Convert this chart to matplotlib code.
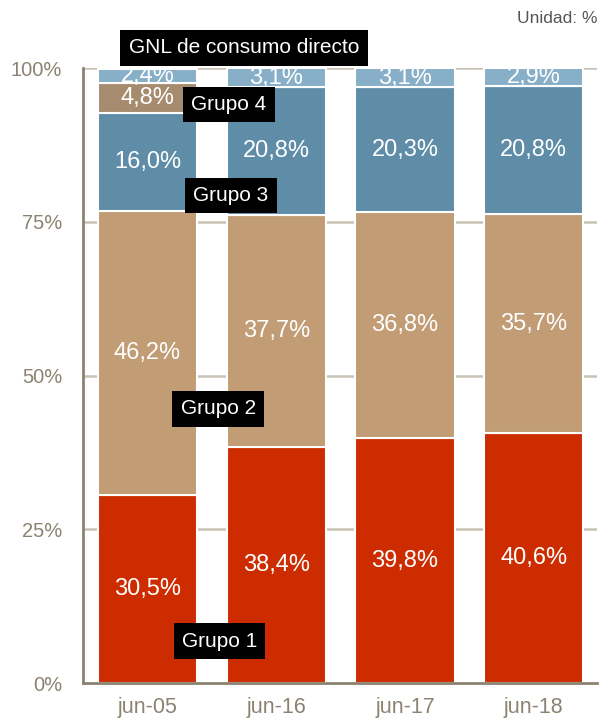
import matplotlib
matplotlib.use("Agg")
import matplotlib.pyplot as plt
import numpy as np

plt.rcParams['font.family'] = ['Liberation Sans', 'DejaVu Sans']

categories = ["jun-05", "jun-16", "jun-17", "jun-18"]
series_names = ["Grupo 1", "Grupo 2", "Grupo 3", "Grupo 4", "GNL de consumo directo"]
grupo1 = [30.5, 38.4, 39.8, 40.6]
grupo2 = [46.2, 37.7, 36.8, 35.7]
grupo3 = [16.0, 20.8, 20.3, 20.8]
grupo4 = [4.8, 0.0, 0.0, 0.0]
gnl = [2.4, 3.1, 3.1, 2.9]
colors = ["#CD2C00", "#C19C75", "#5F8DA8", "#A78B6F", "#87AFC7"]
yticks = [0, 25, 50, 75, 100]
ytick_labels = ["0%", "25%", "50%", "75%", "100%"]

# series label positions (x in category units, y in %)
label_pos = {
    "Grupo 1": (0.56, 6.8),
    "Grupo 2": (0.55, 44.6),
    "Grupo 3": (0.65, 79.3),
    "Grupo 4": (0.63, 94.1),
    "GNL de consumo directo": (0.75, 103.3),
}

fig = plt.figure(figsize=(6.07, 7.24), dpi=100)
ax = fig.add_axes([0.1367, 0.0566, 0.8468, 0.8494])

x = np.arange(len(categories))
data = [grupo1, grupo2, grupo3, grupo4, gnl]
bottom = np.zeros(len(categories))
for vals, col in zip(data, colors):
    vals = np.array(vals)
    ax.bar(x, vals, width=0.77, bottom=bottom, color=col,
           edgecolor="white", linewidth=1.5, zorder=3)
    for xi, b, v in zip(x, bottom, vals):
        if v > 0:
            ax.text(xi, b + v / 2, f"{v:.1f}%".replace(".", ","),
                    ha="center", va="center", color="white", fontsize=17,
                    zorder=4, clip_on=True)
    bottom += vals

for name in series_names:
    px, py = label_pos[name]
    ax.text(px, py, name, ha="center", va="center", color="white", fontsize=15,
            zorder=6, clip_on=False,
            bbox=dict(boxstyle="square,pad=0.4", fc="black", ec="none"))

ax.set_xlim(-0.5, 3.49)
ax.set_ylim(0, 100)
ax.set_xticks(x)
ax.set_xticklabels(categories)
ax.set_yticks(yticks)
ax.set_yticklabels(ytick_labels)
ax.tick_params(axis="both", length=0, colors="#8B8370")
ax.tick_params(axis="x", pad=10, labelsize=15.5)
ax.tick_params(axis="y", pad=15, labelsize=14.5)
for t in yticks[1:]:
    ax.axhline(t, color="#C8C2B4", linewidth=1.8, zorder=1)
for s in ["top", "right"]:
    ax.spines[s].set_visible(False)
for s in ["left", "bottom"]:
    ax.spines[s].set_color("#8B8370")
    ax.spines[s].set_linewidth(2)
    ax.spines[s].set_zorder(5)

fig.text(0.984, 0.975, "Unidad: %", ha="right", va="center", color="#555555", fontsize=12.5)

fig.savefig("out.png", dpi=100)
